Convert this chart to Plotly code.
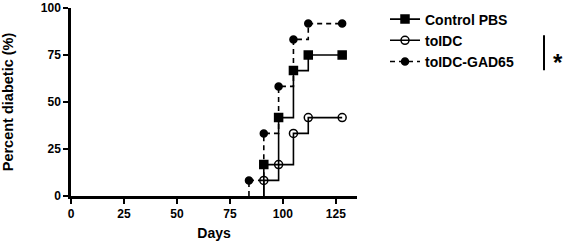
import plotly.graph_objects as go

# ---- data ----
series_names = ["Control PBS", "toIDC", "toIDC-GAD65"]
onset_days = [91, 91, 84]  # first day a curve leaves 0 %
ctrl_days = [91, 98, 105, 112, 128]
ctrl_pct = [16.7, 41.7, 66.7, 75.0, 75.0]
toldc_days = [91, 98, 105, 112, 128]
toldc_pct = [8.3, 16.7, 33.3, 41.7, 41.7]
gad_days = [84, 91, 98, 105, 112, 128]
gad_pct = [8.3, 33.3, 58.3, 83.3, 91.7, 91.7]
x_ticks = [0, 25, 50, 75, 100, 125]
y_ticks = [0, 25, 50, 75, 100]

FONT = "Liberation Sans, Arial, sans-serif"
styles = [
    dict(symbol="square", dash="solid", size=8),
    dict(symbol="circle-open", dash="solid", size=8),
    dict(symbol="circle", dash="5px,4px", size=7),
]
all_days = [ctrl_days, toldc_days, gad_days]
all_pct = [ctrl_pct, toldc_pct, gad_pct]

fig = go.Figure()
for i, name in enumerate(series_names):
    st = styles[i]
    # vertical rise from 0 at onset
    fig.add_trace(go.Scatter(
        x=[onset_days[i], onset_days[i]], y=[0, all_pct[i][0]],
        mode="lines", line=dict(color="black", width=1.6, dash=st["dash"]),
        showlegend=False, hoverinfo="skip", legendgroup=name,
    ))
    fig.add_trace(go.Scatter(
        x=all_days[i], y=all_pct[i], name=name, legendgroup=name,
        mode="lines+markers", line=dict(color="black", width=1.6, dash=st["dash"], shape="hv"),
        marker=dict(symbol=st["symbol"], size=st["size"], color="black",
                    line=dict(color="black", width=1.5)),
    ))

axis_common = dict(
    showgrid=False, zeroline=False, showline=True, linecolor="black", linewidth=2.5,
    ticks="outside", ticklen=5, tickwidth=2, tickcolor="black",
    tickfont=dict(family=FONT, size=12, color="black", weight="bold"),
)
fig.update_xaxes(range=[0, 135], tickvals=x_ticks,
                 title=dict(text="<b>Days</b>", font=dict(family=FONT, size=14, color="black"), standoff=9),
                 **axis_common)
fig.update_yaxes(range=[0, 100], tickvals=y_ticks,
                 title=dict(text="<b>Percent diabetic (%)</b>", font=dict(family=FONT, size=14.5, color="black"), standoff=24),
                 **axis_common)

fig.add_shape(type="line", xref="paper", yref="paper",
              x0=(544 - 71) / 286, x1=(544 - 71) / 286, y0=(196.5 - 35) / 189, y1=(196.5 - 70) / 189,
              line=dict(color="black", width=2))
fig.add_annotation(text="<b>*</b>", xref="paper", yref="paper",
                   x=(551 - 71) / 286, y=(196.5 - 62) / 189, xanchor="left", yanchor="middle",
                   showarrow=False, font=dict(family=FONT, size=24, color="black"))

fig.update_layout(
    width=565, height=244, plot_bgcolor="white", paper_bgcolor="white",
    margin=dict(l=71, r=208, t=7.5, b=47.5, autoexpand=False),
    legend=dict(x=(385 - 71) / 286, xanchor="left", y=(196.5 - 3) / 189, yanchor="top",
                font=dict(family=FONT, size=14, color="black", weight="bold"),
                traceorder="grouped", tracegroupgap=0, itemwidth=30,
                bgcolor="rgba(0,0,0,0)"),
    font=dict(family=FONT, color="black"),
)
fig.write_html("out.html", config={"displayModeBar": False},
               post_script="document.body.style.margin='0';")
